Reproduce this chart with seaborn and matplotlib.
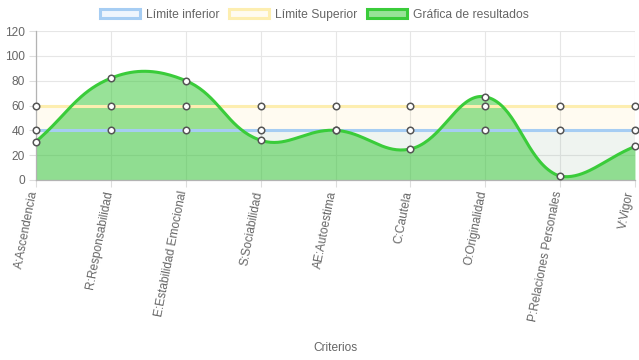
import matplotlib
matplotlib.use("Agg")
import matplotlib.pyplot as plt
import matplotlib.transforms as mtransforms
from matplotlib.patches import Patch
import seaborn as sns
import numpy as np
import pandas as pd

criterios = ["A:Ascendencia", "R:Responsabilidad", "E:Estabilidad Emocional",
             "S:Sociabilidad", "AE:Autoestima", "C:Cautela", "O:Originalidad",
             "P:Relaciones Personales", "V:Vigor"]
resultados = [31, 82, 80, 32, 40, 25, 67, 3, 27]
limite_inferior = [40, 40, 40, 40, 40, 40, 40, 40, 40]
limite_superior = [60, 60, 60, 60, 60, 60, 60, 60, 60]

AZUL = "#a6cdf3"
AMARILLO = "#fdeeb0"
VERDE = "#3acc3a"
GRIS = "#666666"


def spline_chartjs(xs, ys, sx, sy, tension=0.4, ymin=0, ymax=120, n=40):
    # same bezier as Chart.js (tension 0.4), computed in pixel space
    px = np.asarray(xs, float) * sx
    py = np.asarray(ys, float) * sy
    m = len(px)
    cprev = np.zeros((m, 2))
    cnext = np.zeros((m, 2))
    for i in range(m):
        a = max(i - 1, 0)
        b = min(i + 1, m - 1)
        d01 = np.hypot(px[i] - px[a], py[i] - py[a])
        d12 = np.hypot(px[b] - px[i], py[b] - py[i])
        tot = d01 + d12
        s01 = d01 / tot if tot else 0
        s12 = d12 / tot if tot else 0
        fa, fb = tension * s01, tension * s12
        cprev[i] = [px[i] - fa * (px[b] - px[a]), py[i] - fa * (py[b] - py[a])]
        cnext[i] = [px[i] + fb * (px[b] - px[a]), py[i] + fb * (py[b] - py[a])]
    cprev[:, 1] = np.clip(cprev[:, 1], ymin * sy, ymax * sy)
    cnext[:, 1] = np.clip(cnext[:, 1], ymin * sy, ymax * sy)
    t = np.linspace(0, 1, n)[:, None]
    pts = []
    for i in range(m - 1):
        p0 = np.array([px[i], py[i]])
        p3 = np.array([px[i + 1], py[i + 1]])
        seg = ((1 - t) ** 3) * p0 + 3 * ((1 - t) ** 2) * t * cnext[i] \
            + 3 * (1 - t) * t ** 2 * cprev[i + 1] + t ** 3 * p3
        pts.append(seg if i == 0 else seg[1:])
    pts = np.vstack(pts)
    return pts[:, 0] / sx, pts[:, 1] / sy


sns.set_style("white")
plt.rcParams["font.family"] = ["Liberation Sans", "DejaVu Sans"]

fig = plt.figure(figsize=(6.39, 3.6), dpi=100)
ax = fig.add_axes([36 / 639, 0.5, 599 / 639, 149 / 360])

df = pd.DataFrame({"idx": np.arange(len(criterios)), "criterio": criterios,
                   "resultado": resultados, "inf": limite_inferior,
                   "sup": limite_superior})

# fills to origin
ax.fill_between(df["idx"], df["sup"], 0, color=(1, 0.81, 0.34, 0.08), lw=0, zorder=1)
ax.fill_between(df["idx"], df["inf"], 0, color=(0.21, 0.64, 0.92, 0.08), lw=0, zorder=1)

cx, cy = spline_chartjs(df["idx"], df["resultado"], 74.9, 149 / 120)
ax.fill_between(cx, cy, 0, color=(0.2, 0.78, 0.2, 0.5), lw=0, zorder=2)

sns.lineplot(data=df, x="idx", y="inf", color=AZUL, lw=2.2, ax=ax, zorder=3)
sns.lineplot(data=df, x="idx", y="sup", color=AMARILLO, lw=2.2, ax=ax, zorder=3)
ax.plot(cx, cy, color=VERDE, lw=2.2, zorder=4, solid_capstyle="round")

for col in ["inf", "sup", "resultado"]:
    sns.scatterplot(data=df, x="idx", y=col, s=22, color="white",
                    edgecolor="#555555", linewidth=1.1, ax=ax, zorder=5, clip_on=False)

ax.set_xlim(0, len(criterios) - 1)
ax.set_ylim(0, 120)
ax.set_yticks(range(0, 121, 20))
ax.set_xticks(df["idx"])
ax.tick_params(axis="both", colors="#dddddd", labelcolor=GRIS, labelsize=8.6,
               length=5, width=0.8, pad=3, left=True, bottom=True)
ax.set_xticklabels(criterios, rotation=79, rotation_mode="anchor",
                   ha="right", va="center")
# tick_params resets label transforms, so shift afterwards
labels = ax.get_xticklabels()
for i, lbl in enumerate(labels):
    dx = -2 if i < len(labels) - 1 else -5  # keep the last one inside the canvas
    shift = mtransforms.ScaledTranslation(dx / 100, 0, fig.dpi_scale_trans)
    lbl.set_transform(lbl.get_transform() + shift)
ax.grid(True, color="#e6e6e6", lw=0.8)
ax.set_axisbelow(True)
for s in ["top", "right"]:
    ax.spines[s].set_visible(False)
for s in ["left", "bottom"]:
    ax.spines[s].set_color("#b3b3b3")
    ax.spines[s].set_linewidth(0.9)

ax.set_ylabel("")
ax.set_xlabel("Criterios", color=GRIS, fontsize=8.6)
ax.xaxis.set_label_coords(0.5, -168 / 149)
ax.xaxis.label.set_va("center")

handles = [
    Patch(facecolor="#eef5fd", edgecolor=AZUL, lw=2.2, label="Límite inferior"),
    Patch(facecolor="#fffbf0", edgecolor=AMARILLO, lw=2.2, label="Límite Superior"),
    Patch(facecolor="#98e398", edgecolor=VERDE, lw=2.2, label="Gráfica de resultados"),
]
fig.legend(handles=handles, loc="center", bbox_to_anchor=(0.492, 1 - 15 / 360),
           ncol=3, frameon=False, fontsize=8.7, labelcolor=GRIS,
           handlelength=3.3, handleheight=0.8, handletextpad=0.5,
           columnspacing=0.8)

fig.savefig("out.png", dpi=100)
